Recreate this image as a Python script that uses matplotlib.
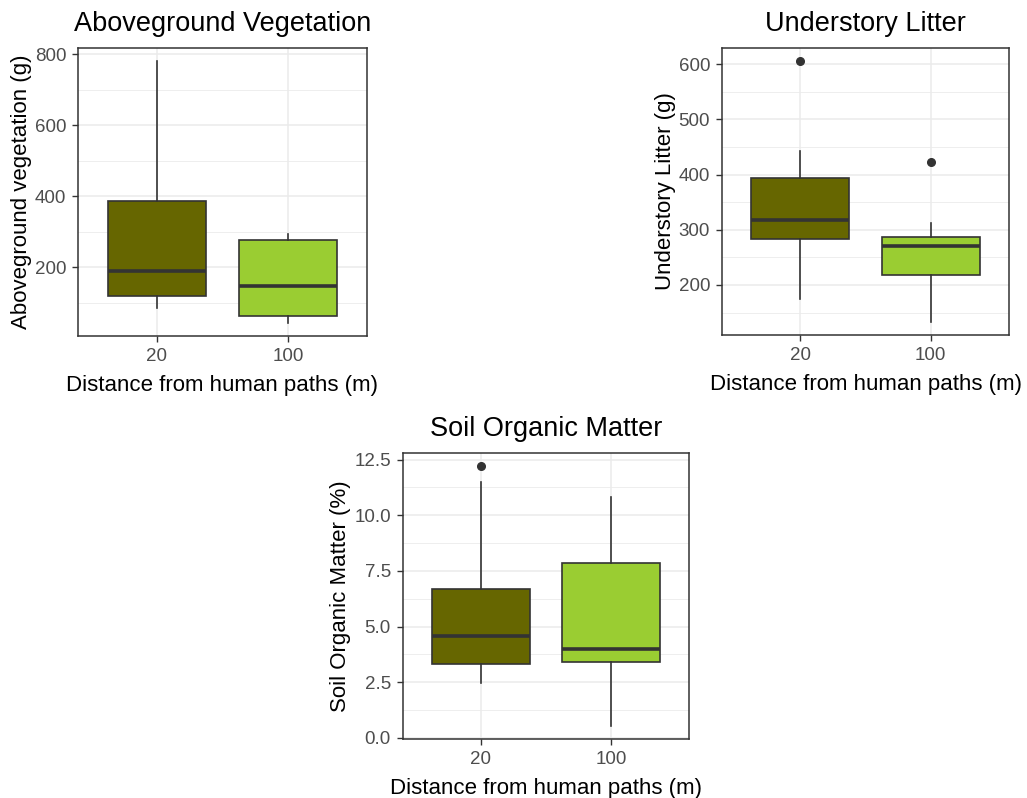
import matplotlib
matplotlib.use('Agg')
import matplotlib.pyplot as plt
from matplotlib.ticker import MultipleLocator, FormatStrFormatter

plt.rcParams['font.family'] = ['Liberation Sans', 'DejaVu Sans']

distancias = ['20', '100']
cores = ['#666600', '#9ACD32']

# vegetacao acima do solo (g)
veg_q1 = [119, 62]
veg_mediana = [190, 147]
veg_q3 = [386, 278]
veg_min = [84, 43]
veg_max = [781, 294]
veg_outliers = [[], []]

# serrapilheira (g)
lit_q1 = [284, 218]
lit_mediana = [318, 271]
lit_q3 = [394, 286]
lit_min = [175, 133]
lit_max = [443, 312]
lit_outliers = [[606], [423]]

# materia organica do solo (%)
som_q1 = [3.33, 3.41]
som_mediana = [4.59, 3.99]
som_q3 = [6.68, 7.84]
som_min = [2.48, 0.52]
som_max = [11.5, 10.8]
som_outliers = [[12.22], []]

CINZA20 = '#333333'
CINZA30 = '#4D4D4D'
CINZA92 = '#EBEBEB'


def plotar_caixa(ax, q1, mediana, q3, minimo, maximo, outliers, titulo, ylabel, passo):
    stats = []
    for i in range(len(distancias)):
        stats.append({'q1': q1[i], 'med': mediana[i], 'q3': q3[i],
                      'whislo': minimo[i], 'whishi': maximo[i],
                      'fliers': outliers[i], 'label': distancias[i]})
    caixas = ax.bxp(stats, positions=[1, 2], widths=0.75, patch_artist=True,
                    showcaps=False,
                    boxprops=dict(edgecolor=CINZA20, linewidth=1.2),
                    medianprops=dict(color=CINZA20, linewidth=2.6),
                    whiskerprops=dict(color=CINZA20, linewidth=1.2),
                    flierprops=dict(marker='o', markerfacecolor=CINZA20,
                                    markeredgecolor=CINZA20, markersize=5.5))
    for caixa, cor in zip(caixas['boxes'], cores):
        caixa.set_facecolor(cor)

    # limites como no ggplot (expansao de 5%)
    valores = minimo + maximo + [v for o in outliers for v in o]
    baixo, alto = min(valores), max(valores)
    margem = (alto - baixo) * 0.05
    ax.set_ylim(baixo - margem, alto + margem)
    ax.set_xlim(0.4, 2.6)

    ax.yaxis.set_major_locator(MultipleLocator(passo))
    ax.yaxis.set_minor_locator(MultipleLocator(passo / 2))
    ax.set_axisbelow(True)
    ax.grid(which='major', color=CINZA92, linewidth=1.1)
    ax.grid(which='minor', axis='y', color=CINZA92, linewidth=0.6)
    ax.tick_params(which='major', length=4, width=1, color=CINZA20,
                   labelcolor=CINZA30, labelsize=13.5, pad=4.5)
    ax.tick_params(which='minor', length=0)
    for lado in ax.spines.values():
        lado.set_color(CINZA20)
        lado.set_linewidth(1.1)

    ax.set_title(titulo, fontsize=19.5, pad=12)
    ax.set_xlabel('Distance from human paths (m)', fontsize=16, labelpad=7.5)
    ax.set_ylabel(ylabel, fontsize=16, labelpad=2)


fig = plt.figure(figsize=(10.27, 7.98), dpi=100)

ax1 = fig.add_axes([0.0759, 0.5789, 0.2814, 0.3609])
plotar_caixa(ax1, veg_q1, veg_mediana, veg_q3, veg_min, veg_max, veg_outliers,
             'Aboveground Vegetation', 'Aboveground vegetation (g)', 200)

ax2 = fig.add_axes([0.703, 0.5802, 0.2795, 0.360])
plotar_caixa(ax2, lit_q1, lit_mediana, lit_q3, lit_min, lit_max, lit_outliers,
             'Understory Litter', 'Understory Litter (g)', 100)

ax3 = fig.add_axes([0.3921, 0.0736, 0.279, 0.359])
plotar_caixa(ax3, som_q1, som_mediana, som_q3, som_min, som_max, som_outliers,
             'Soil Organic Matter', 'Soil Organic Matter (%)', 2.5)
ax3.yaxis.set_major_formatter(FormatStrFormatter('%.1f'))

plt.savefig('out.png', dpi=100)
